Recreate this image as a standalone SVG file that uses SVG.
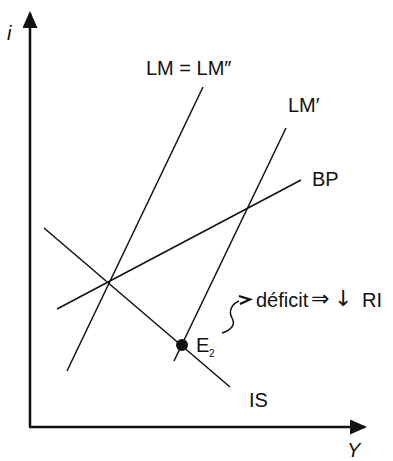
<svg xmlns="http://www.w3.org/2000/svg" width="393" height="461" viewBox="0 0 393 461">
<style>
.ax{stroke:#111;stroke-width:2.5;fill:none}
.cv{stroke:#111;stroke-width:1.5;fill:none}
.t{font-family:"Liberation Sans",Arial,sans-serif;font-size:20px;fill:#111}
.it{font-style:italic}
.sym{font-family:"DejaVu Sans",sans-serif;font-size:22px;fill:#111}
</style>
<defs>
<marker id="ah" viewBox="0 0 17 15" refX="15" refY="7.5" markerWidth="17" markerHeight="15" markerUnits="userSpaceOnUse" orient="auto">
<path d="M0,0 L17,7.5 L0,15 Z" fill="#111"/>
</marker>
</defs>
<g id="axes">
<line class="ax" x1="30" y1="427" x2="30" y2="13" marker-end="url(#ah)"/>
<line class="ax" x1="29" y1="427" x2="365" y2="427" marker-end="url(#ah)"/>
<text class="t it" x="7" y="40">i</text>
<text class="t it" x="347" y="457">Y</text>
</g>
<g id="connectors">
<line id="LM" class="cv" x1="203" y1="87" x2="67" y2="371"/>
<line id="LMp" class="cv" x1="286" y1="128" x2="174" y2="361"/>
<line id="BP" class="cv" x1="301" y1="180" x2="57" y2="309"/>
<line id="IS" class="cv" x1="44" y1="228" x2="230" y2="387"/>
</g>
<g id="labels">
<text class="t" x="146" y="75">LM = LM″</text>
<text class="t" x="288" y="112">LM′</text>
<text class="t" x="312" y="186">BP</text>
<text class="t" x="249" y="407">IS</text>
</g>
<g id="E2">
<circle cx="182" cy="345" r="6" fill="#111"/>
<text class="t" x="196" y="352">E</text>
<text class="t" x="209" y="357" style="font-size:10px">2</text>
</g>
<g id="note">
<path class="cv" d="M222,333 C231,330 236,325 232,318 C228,311 232,304 239,301"/>
<path d="M239,296 L250,299.5 L240,304" stroke="#111" stroke-width="2.2" fill="none"/>
<text class="t" x="256" y="307">déficit</text>
<text class="sym" x="311" y="306">⇒</text>
<text class="sym" x="334" y="306">↓</text>
<text class="t" x="362" y="307">RI</text>
</g>
</svg>
